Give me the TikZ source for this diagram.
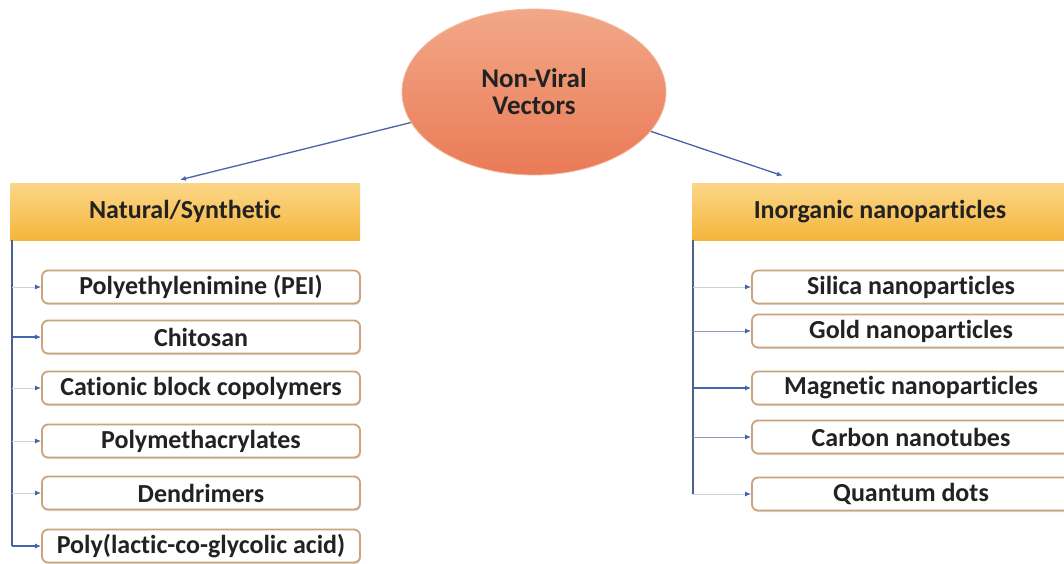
\documentclass[tikz,border=0pt]{standalone}
\usepackage{fontspec}
\setmainfont{Carlito}[Ligatures=NoCommon]
\usetikzlibrary{arrows.meta,shapes.geometric,shadows,calc}
\definecolor{arrowblue}{HTML}{4465A8}
\definecolor{linec}{HTML}{4D6190}
\definecolor{boxedge}{HTML}{C9A47C}
\definecolor{hdrtop}{HTML}{FBD788}
\definecolor{hdrbot}{HTML}{F5B53C}
\definecolor{elltop}{HTML}{F2A888}
\definecolor{ellbot}{HTML}{EA7A56}
\definecolor{txt}{HTML}{222222}
\begin{document}
\begin{tikzpicture}[x=1pt,y=-1pt,
  item/.style={draw=boxedge, line width=1.8pt, rounded corners=6pt, fill=white,
    minimum width=318pt, minimum height=33pt, inner sep=0pt, text=txt,
    font=\bfseries\fontsize{26}{30}\selectfont,
    drop shadow={shadow xshift=1pt, shadow yshift=-1.5pt, opacity=0.25}},
  header/.style={top color=hdrtop, bottom color=hdrbot, draw=none,
    minimum height=57pt, inner sep=0pt, text=txt,
    font=\bfseries\fontsize{26}{30}\selectfont},
  conn/.style={draw=linec, line width=1.3pt, -{Latex[length=6pt,width=5pt]}, arrowblue},
  faint/.style={draw=linec!30, line width=1pt, -{Latex[length=6pt,width=5pt,color=arrowblue]}},
  vline/.style={draw=linec, line width=1.6pt}]
\useasboundingbox (0,0) rectangle (1064,563);
\clip (0,0) rectangle (1064,563);
\fill[white] (0,0) rectangle (1064,563);

\node[ellipse, minimum width=264pt, minimum height=166pt, inner sep=0pt,
  top color=elltop, bottom color=ellbot, draw=elltop!80!white, line width=0.8pt,
  align=center, text=txt, font=\bfseries\fontsize{27}{27}\selectfont] (root) at (534,92) {Non-Viral\\Vectors};

\node[header, minimum width=350pt] (h1) at (185,211.5) {Natural/Synthetic};
\node[header, minimum width=376pt] (h2) at (880,211.5) {Inorganic nanoparticles};

\coordinate (t1) at ($(h1.north)+(-5,-3)$);
\coordinate (t2) at ($(h2.north west)+(91,-7)$);
\draw[conn] (root) -- (t1);
\draw[conn] (root) -- (t2);

% left list
\node[item] (a1) at (201,287) {Polyethylenimine (PEI)};
\node[item] (a2) at (201,337) {Chitosan};
\node[item] (a3) at (201,388) {Cationic block copolymers};
\node[item] (a4) at (201,441) {Polymethacrylates};
\node[item] (a5) at (201,493) {Dendrimers};
\node[item] (a6) at (201,546) {Poly(lactic-co-glycolic acid)};

\coordinate (l0) at ($(h1.south west)+(2,0)$);
\coordinate (l1) at (l0 |- a6.west);
\draw[vline] (l0) -- (l1);
\foreach \i in {1,3,4,5} \draw[faint] (l0 |- a\i.west) -- (a\i.west);
\foreach \i in {2,6} \draw[conn] (l0 |- a\i.west) -- (a\i.west);

% right list
\node[item] (b1) at (911,287) {Silica nanoparticles};
\node[item] (b2) at (911,331) {Gold nanoparticles};
\node[item] (b3) at (911,388) {Magnetic nanoparticles};
\node[item] (b4) at (911,437) {Carbon nanotubes};
\node[item] (b5) at (911,494) {Quantum dots};

\coordinate (r0) at ($(h2.south west)+(1,0)$);
\coordinate (r1) at (r0 |- b5.west);
\draw[vline] (r0) -- (r1);
\foreach \i in {1,5} \draw[faint] (r0 |- b\i.west) -- (b\i.west);
\foreach \i in {2,4} \draw[faint, draw=linec!65] (r0 |- b\i.west) -- (b\i.west);
\draw[conn] (r0 |- b3.west) -- (b3.west);
\end{tikzpicture}
\end{document}
